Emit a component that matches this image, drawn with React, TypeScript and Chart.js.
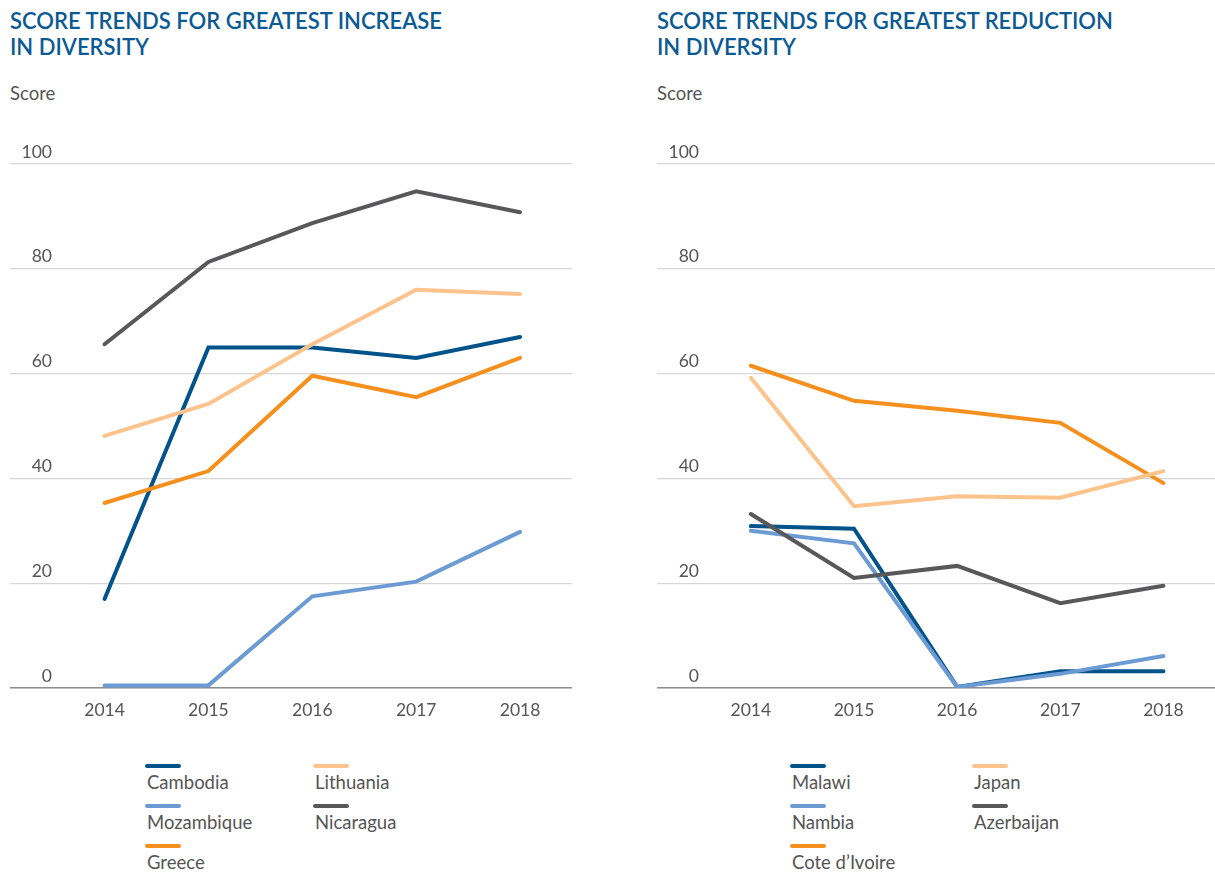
import React, { useEffect, useRef } from "react";
import { Chart, registerables } from "chart.js";

Chart.register(...registerables);

const years = [2014, 2015, 2016, 2017, 2018];
const yTicks = [0, 20, 40, 60, 80, 100];

const cambodia = [17, 65, 65, 63, 67];
const mozambique = [0.5, 0.5, 17.5, 20.3, 29.8];
const greece = [35.3, 41.4, 59.6, 55.5, 63];
const lithuania = [48.1, 54.2, 65.6, 76, 75.2];
const nicaragua = [65.6, 81.3, 88.7, 94.8, 90.8];

const malawi = [30.9, 30.4, 0.2, 3.2, 3.2];
const nambia = [30, 27.6, 0.2, 2.7, 6.1];
const coteDIvoire = [61.5, 54.8, 52.9, 50.6, 39.1];
const japan = [59.2, 34.7, 36.6, 36.3, 41.4];
const azerbaijan = [33.2, 21, 23.3, 16.2, 19.5];

const DARK_BLUE = "#02538a";
const LIGHT_BLUE = "#6c9bd3";
const ORANGE = "#f5901e";
const LIGHT_ORANGE = "#fcc38c";
const DARK_GRAY = "#58585a";

type Series = { name: string; values: number[]; color: string };

const leftSeries: Series[] = [
  { name: "Mozambique", values: mozambique, color: LIGHT_BLUE },
  { name: "Greece", values: greece, color: ORANGE },
  { name: "Lithuania", values: lithuania, color: LIGHT_ORANGE },
  { name: "Nicaragua", values: nicaragua, color: DARK_GRAY },
  { name: "Cambodia", values: cambodia, color: DARK_BLUE },
];
const leftLegend: (Series | null)[][] = [
  [leftSeries[4], leftSeries[2]],
  [leftSeries[0], leftSeries[3]],
  [leftSeries[1], null],
];

const rightSeries: Series[] = [
  { name: "Japan", values: japan, color: LIGHT_ORANGE },
  { name: "Cote d\u2019Ivoire", values: coteDIvoire, color: ORANGE },
  { name: "Azerbaijan", values: azerbaijan, color: DARK_GRAY },
  { name: "Nambia", values: nambia, color: LIGHT_BLUE },
  { name: "Malawi", values: malawi, color: DARK_BLUE },
];
const rightLegend: (Series | null)[][] = [
  [rightSeries[4], rightSeries[0]],
  [rightSeries[3], rightSeries[2]],
  [rightSeries[1], null],
];

const FONT = "Lato, 'Open Sans', sans-serif";
const TEXT = "#555555";

const yLabelPlugin = {
  id: "yLabels",
  afterDraw(chart: any) {
    const ctx = chart.ctx;
    const y = chart.scales.y;
    ctx.save();
    ctx.font = `17.5px ${FONT}`;
    ctx.fillStyle = TEXT;
    ctx.textAlign = "right";
    ctx.textBaseline = "middle";
    yTicks.forEach((v) => {
      ctx.fillText(String(v), 42, y.getPixelForValue(v) - 12);
    });
    ctx.restore();
  },
};

function Panel({ left, width, title, series, legend, legendLeft, legendGap }: { left: number; width: number; title: string[]; series: Series[]; legend: (Series | null)[][]; legendLeft: number; legendGap: number }) {
  const ref = useRef<HTMLCanvasElement>(null);
  useEffect(() => {
    const chart = new Chart(ref.current!, {
      type: "line",
      data: {
        datasets: series.map((s) => ({
          label: s.name,
          data: years.map((yr, i) => ({ x: yr, y: s.values[i] })),
          borderColor: s.color,
          backgroundColor: s.color,
          borderWidth: 4,
          pointRadius: 0,
          tension: 0,
          borderCapStyle: "round" as const,
          fill: false,
        })),
      },
      options: {
        animation: false,
        responsive: false,
        maintainAspectRatio: false,
        events: [],
        layout: { padding: { top: 24, left: 0, right: 0, bottom: 0 } },
        plugins: { legend: { display: false }, tooltip: { enabled: false } },
        scales: {
          x: {
            type: "linear",
            min: 2013.09,
            max: 2018.5,
            afterBuildTicks: (axis: any) => {
              axis.ticks = years.map((v) => ({ value: v }));
            },
            ticks: {
              font: { family: FONT, size: 17.5 },
              color: TEXT,
              padding: 12,
              maxRotation: 0,
              autoSkip: false,
              callback: (v: any) => String(v),
            },
            grid: { display: false, drawTicks: false },
            border: { display: true, color: "#8e8e8e", width: 1.5 },
          },
          y: {
            min: 0,
            max: 100,
            afterBuildTicks: (axis: any) => {
              axis.ticks = yTicks.map((v) => ({ value: v }));
            },
            ticks: { display: false },
            grid: {
              drawTicks: false,
              color: "#d6d6d6",
              lineWidth: 1.2,
            },
            border: { display: false },
          },
        },
      },
      plugins: [yLabelPlugin],
    } as any);
    return () => chart.destroy();
  }, []);

  return (
    <div style={{ position: "absolute", left, top: 0, width: 600, height: 873 }}>
      <div
        style={{
          position: "absolute",
          left: 10,
          top: 8,
          color: "#0b5a93",
          fontFamily: FONT,
          fontSize: 22,
          fontWeight: 600,
          lineHeight: "26px",
          whiteSpace: "nowrap",
        }}
      >
        {title.map((t, i) => (
          <div key={i}>{t}</div>
        ))}
      </div>
      <div style={{ position: "absolute", left: 10, top: 82, color: TEXT, fontFamily: FONT, fontSize: 18.5 }}>Score</div>
      <canvas ref={ref} width={width} height={593} style={{ position: "absolute", left: 10, top: 140, width, height: 593 }} />
      {legend.map((row, ri) =>
        row.map((s, ci) =>
          s ? (
            <div key={ri + "-" + ci} style={{ position: "absolute", left: legendLeft + ci * legendGap, top: 764 + ri * 40 }}>
              <div style={{ width: 36, height: 4, borderRadius: 2, background: s.color }} />
              <div style={{ marginTop: 3, marginLeft: 2, fontFamily: FONT, fontSize: 18.5, color: TEXT, whiteSpace: "nowrap" }}>{s.name}</div>
            </div>
          ) : null
        )
      )}
    </div>
  );
}

export default function App() {
  useEffect(() => {
    document.body.style.margin = "0";
  }, []);
  return (
    <div style={{ position: "relative", width: 1215, height: 873, background: "#fff", overflow: "hidden" }}>
      <Panel left={0} width={562} title={["SCORE TRENDS FOR GREATEST INCREASE", "IN DIVERSITY"]} series={leftSeries} legend={leftLegend} legendLeft={145} legendGap={168} />
      <Panel left={647} width={558} title={["SCORE TRENDS FOR GREATEST REDUCTION", "IN DIVERSITY"]} series={rightSeries} legend={rightLegend} legendLeft={143} legendGap={182} />
    </div>
  );
}
